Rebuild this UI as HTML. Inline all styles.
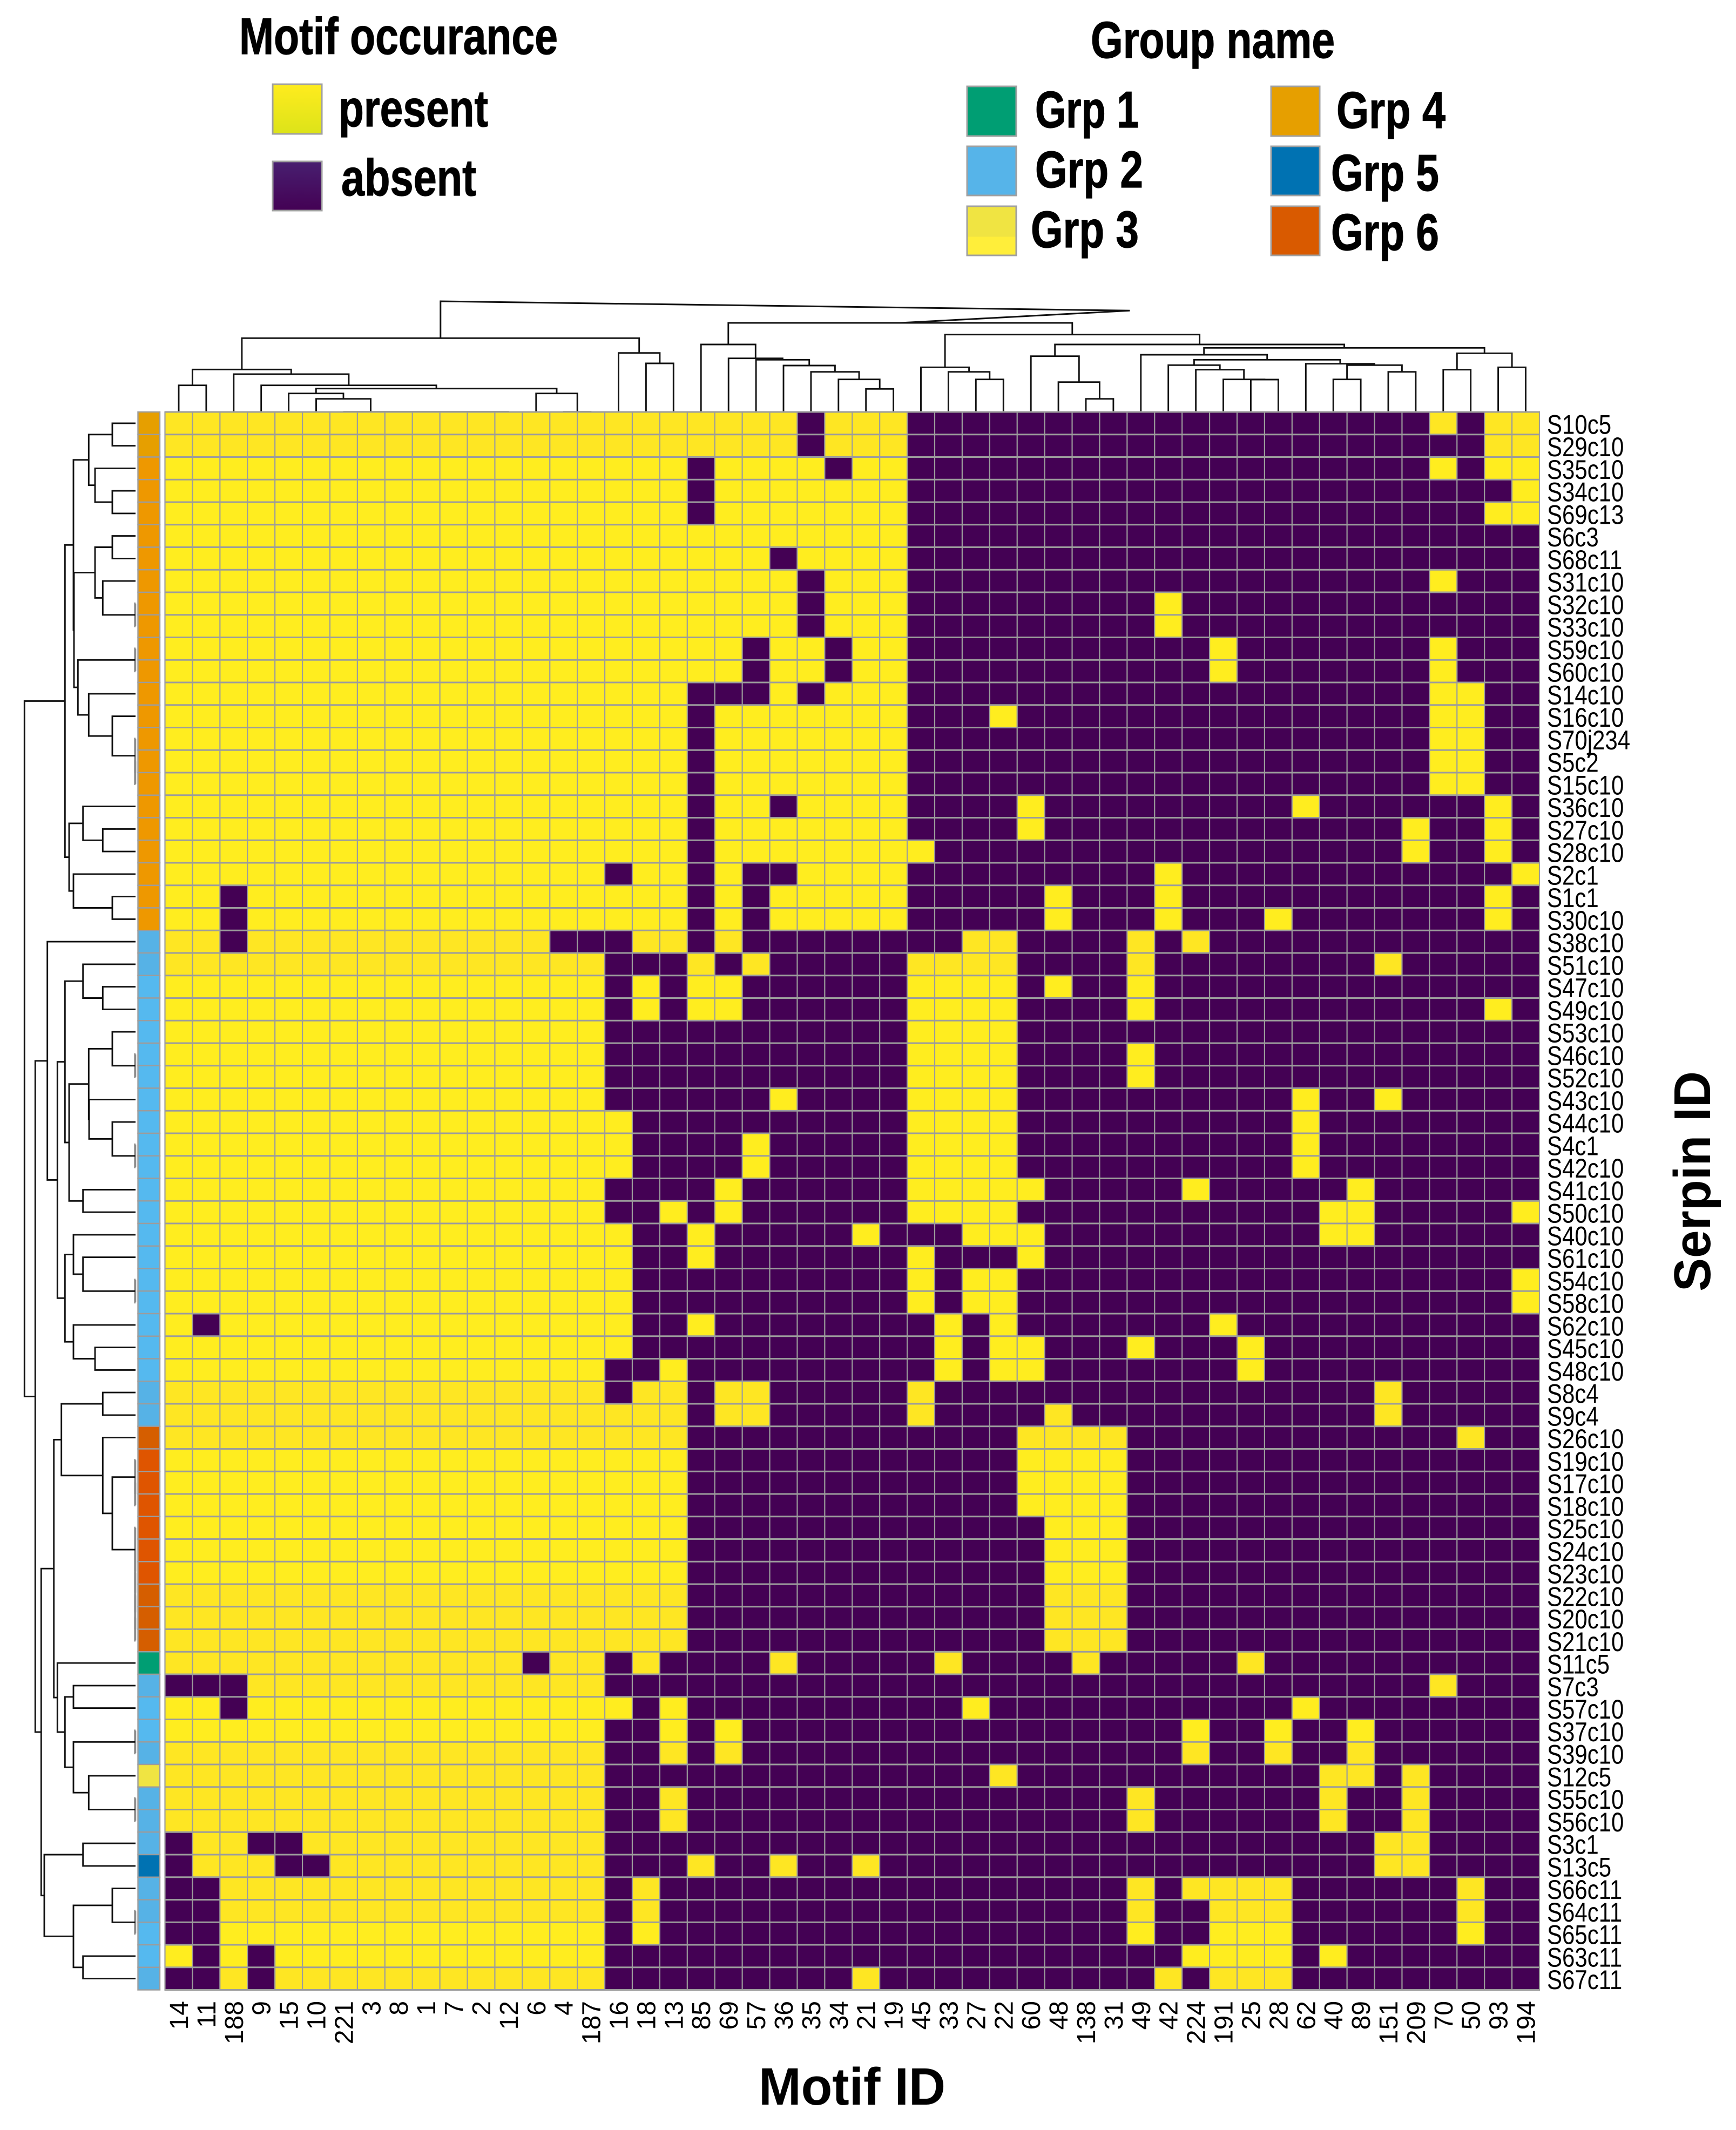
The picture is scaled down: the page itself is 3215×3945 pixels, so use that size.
<!DOCTYPE html>
<html lang="en">
<head>
<meta charset="utf-8">
<title>Serpin motif occurrence heatmap</title>
<style>
html,body{margin:0;padding:0;background:#fff;}
svg{display:block;}
text{font-family:"Liberation Sans",Arial,sans-serif;fill:#000;}
.legend-text{font-weight:bold;font-size:96px;stroke:#000;stroke-width:1.2px;}
</style>
</head>
<body>
<svg id="chart" width="3215" height="3945" viewBox="0 0 3215 3945">
  <defs>
    <linearGradient id="presentFill" x1="0" y1="0" x2="0" y2="1"><stop offset="0" stop-color="#FFEC1E"/><stop offset="1" stop-color="#DCE319"/></linearGradient>
    <linearGradient id="absentFill" x1="0" y1="0" x2="0" y2="1"><stop offset="0" stop-color="#481F70"/><stop offset="1" stop-color="#440154"/></linearGradient>
    <linearGradient id="grp3Fill" x1="0" y1="0" x2="0" y2="1"><stop offset="0.62" stop-color="#F0E442"/><stop offset="0.62" stop-color="#FFEE3A"/></linearGradient>
  </defs>
  <rect width="3215" height="3945" fill="#fff"/>

  <g>
    <text class="legend-text" x="443" y="100" textLength="590" lengthAdjust="spacingAndGlyphs">Motif occurance</text>
    <rect x="505" y="156" width="91" height="92" fill="url(#presentFill)" stroke="#a0a0a0" stroke-width="3"/>
    <text class="legend-text" x="627" y="234" textLength="277" lengthAdjust="spacingAndGlyphs">present</text>
    <rect x="505" y="299" width="91" height="91" fill="url(#absentFill)" stroke="#a0a0a0" stroke-width="3"/>
    <text class="legend-text" x="632" y="362" textLength="250" lengthAdjust="spacingAndGlyphs">absent</text>
  </g>

  <g>
    <text class="legend-text" x="2020" y="107" textLength="452" lengthAdjust="spacingAndGlyphs">Group name</text>
    <rect x="1791" y="160" width="91" height="92" fill="#009E73" stroke="#a0a0a0" stroke-width="3"/>
    <text class="legend-text" x="1917" y="236" textLength="192" lengthAdjust="spacingAndGlyphs">Grp 1</text>
    <rect x="1791" y="271" width="91" height="91" fill="#56B4E9" stroke="#a0a0a0" stroke-width="3"/>
    <text class="legend-text" x="1917" y="347" textLength="200" lengthAdjust="spacingAndGlyphs">Grp 2</text>
    <rect x="1791" y="382" width="91" height="91" fill="url(#grp3Fill)" stroke="#a0a0a0" stroke-width="3"/>
    <text class="legend-text" x="1909" y="458" textLength="200" lengthAdjust="spacingAndGlyphs">Grp 3</text>
    <rect x="2354" y="160" width="90" height="92" fill="#E69F00" stroke="#a0a0a0" stroke-width="3"/>
    <text class="legend-text" x="2475" y="237" textLength="202" lengthAdjust="spacingAndGlyphs">Grp 4</text>
    <rect x="2354" y="271" width="90" height="91" fill="#0072B2" stroke="#a0a0a0" stroke-width="3"/>
    <text class="legend-text" x="2465" y="353" textLength="200" lengthAdjust="spacingAndGlyphs">Grp 5</text>
    <rect x="2354" y="382" width="90" height="91" fill="#D95A00" stroke="#a0a0a0" stroke-width="3"/>
    <text class="legend-text" x="2465" y="463" textLength="200" lengthAdjust="spacingAndGlyphs">Grp 6</text>
  </g>

  <g id="colDendrogram"></g>
  <g id="rowDendrogram"></g>
  <g id="annotationBar"></g>
  <g id="heatmap"></g>
  <g id="rowLabels"></g>
  <g id="colLabels"></g>

  <text x="1405" y="3898" font-size="97" font-weight="bold" textLength="346" lengthAdjust="spacingAndGlyphs">Motif ID</text>
  <text transform="translate(3167,2392) rotate(-90)" font-size="96" font-weight="bold" textLength="408" lengthAdjust="spacingAndGlyphs">Serpin ID</text>
</svg>

<script>
const motifIds = [14,11,188,9,15,10,221,3,8,1,7,2,12,6,4,187,16,18,13,85,69,57,36,35,34,21,19,45,33,27,22,60,48,138,31,49,42,224,191,25,28,62,40,89,151,209,70,50,93,194];

const serpinIds = ["S10c5","S29c10","S35c10","S34c10","S69c13","S6c3","S68c11","S31c10","S32c10","S33c10","S59c10","S60c10","S14c10","S16c10","S70j234","S5c2","S15c10","S36c10","S27c10","S28c10","S2c1","S1c1","S30c10","S38c10","S51c10","S47c10","S49c10","S53c10","S46c10","S52c10","S43c10","S44c10","S4c1","S42c10","S41c10","S50c10","S40c10","S61c10","S54c10","S58c10","S62c10","S45c10","S48c10","S8c4","S9c4","S26c10","S19c10","S17c10","S18c10","S25c10","S24c10","S23c10","S22c10","S20c10","S21c10","S11c5","S7c3","S57c10","S37c10","S39c10","S12c5","S55c10","S56c10","S3c1","S13c5","S66c11","S64c11","S65c11","S63c11","S67c11"];

const serpinGroups = [4,4,4,4,4,4,4,4,4,4,4,4,4,4,4,4,4,4,4,4,4,4,4,2,2,2,2,2,2,2,2,2,2,2,2,2,2,2,2,2,2,2,2,2,2,6,6,6,6,6,6,6,6,6,6,1,2,2,2,2,3,2,2,2,5,2,2,2,2,2];

const motifPresence = [
[1,1,1,1,1,1,1,1,1,1,1,1,1,1,1,1, 1,1,1,1,1,1,1,0,1,1,1, 0,0,0,0,0,0,0,0,0,0,0,0,0,0,0,0,0,0,0,1,0,1,1],
[1,1,1,1,1,1,1,1,1,1,1,1,1,1,1,1, 1,1,1,1,1,1,1,0,1,1,1, 0,0,0,0,0,0,0,0,0,0,0,0,0,0,0,0,0,0,0,0,0,1,1],
[1,1,1,1,1,1,1,1,1,1,1,1,1,1,1,1, 1,1,1,0,1,1,1,1,0,1,1, 0,0,0,0,0,0,0,0,0,0,0,0,0,0,0,0,0,0,0,1,0,1,1],
[1,1,1,1,1,1,1,1,1,1,1,1,1,1,1,1, 1,1,1,0,1,1,1,1,1,1,1, 0,0,0,0,0,0,0,0,0,0,0,0,0,0,0,0,0,0,0,0,0,0,1],
[1,1,1,1,1,1,1,1,1,1,1,1,1,1,1,1, 1,1,1,0,1,1,1,1,1,1,1, 0,0,0,0,0,0,0,0,0,0,0,0,0,0,0,0,0,0,0,0,0,1,1],
[1,1,1,1,1,1,1,1,1,1,1,1,1,1,1,1, 1,1,1,1,1,1,1,1,1,1,1, 0,0,0,0,0,0,0,0,0,0,0,0,0,0,0,0,0,0,0,0,0,0,0],
[1,1,1,1,1,1,1,1,1,1,1,1,1,1,1,1, 1,1,1,1,1,1,0,1,1,1,1, 0,0,0,0,0,0,0,0,0,0,0,0,0,0,0,0,0,0,0,0,0,0,0],
[1,1,1,1,1,1,1,1,1,1,1,1,1,1,1,1, 1,1,1,1,1,1,1,0,1,1,1, 0,0,0,0,0,0,0,0,0,0,0,0,0,0,0,0,0,0,0,1,0,0,0],
[1,1,1,1,1,1,1,1,1,1,1,1,1,1,1,1, 1,1,1,1,1,1,1,0,1,1,1, 0,0,0,0,0,0,0,0,0,1,0,0,0,0,0,0,0,0,0,0,0,0,0],
[1,1,1,1,1,1,1,1,1,1,1,1,1,1,1,1, 1,1,1,1,1,1,1,0,1,1,1, 0,0,0,0,0,0,0,0,0,1,0,0,0,0,0,0,0,0,0,0,0,0,0],
[1,1,1,1,1,1,1,1,1,1,1,1,1,1,1,1, 1,1,1,1,1,0,1,1,0,1,1, 0,0,0,0,0,0,0,0,0,0,0,1,0,0,0,0,0,0,0,1,0,0,0],
[1,1,1,1,1,1,1,1,1,1,1,1,1,1,1,1, 1,1,1,1,1,0,1,1,0,1,1, 0,0,0,0,0,0,0,0,0,0,0,1,0,0,0,0,0,0,0,1,0,0,0],
[1,1,1,1,1,1,1,1,1,1,1,1,1,1,1,1, 1,1,1,0,0,0,1,0,1,1,1, 0,0,0,0,0,0,0,0,0,0,0,0,0,0,0,0,0,0,0,1,1,0,0],
[1,1,1,1,1,1,1,1,1,1,1,1,1,1,1,1, 1,1,1,0,1,1,1,1,1,1,1, 0,0,0,1,0,0,0,0,0,0,0,0,0,0,0,0,0,0,0,1,1,0,0],
[1,1,1,1,1,1,1,1,1,1,1,1,1,1,1,1, 1,1,1,0,1,1,1,1,1,1,1, 0,0,0,0,0,0,0,0,0,0,0,0,0,0,0,0,0,0,0,1,1,0,0],
[1,1,1,1,1,1,1,1,1,1,1,1,1,1,1,1, 1,1,1,0,1,1,1,1,1,1,1, 0,0,0,0,0,0,0,0,0,0,0,0,0,0,0,0,0,0,0,1,1,0,0],
[1,1,1,1,1,1,1,1,1,1,1,1,1,1,1,1, 1,1,1,0,1,1,1,1,1,1,1, 0,0,0,0,0,0,0,0,0,0,0,0,0,0,0,0,0,0,0,1,1,0,0],
[1,1,1,1,1,1,1,1,1,1,1,1,1,1,1,1, 1,1,1,0,1,1,0,1,1,1,1, 0,0,0,0,1,0,0,0,0,0,0,0,0,0,1,0,0,0,0,0,0,1,0],
[1,1,1,1,1,1,1,1,1,1,1,1,1,1,1,1, 1,1,1,0,1,1,1,1,1,1,1, 0,0,0,0,1,0,0,0,0,0,0,0,0,0,0,0,0,0,1,0,0,1,0],
[1,1,1,1,1,1,1,1,1,1,1,1,1,1,1,1, 1,1,1,0,1,1,1,1,1,1,1, 1,0,0,0,0,0,0,0,0,0,0,0,0,0,0,0,0,0,1,0,0,1,0],
[1,1,1,1,1,1,1,1,1,1,1,1,1,1,1,1, 0,1,1,0,1,0,0,1,1,1,1, 0,0,0,0,0,0,0,0,0,1,0,0,0,0,0,0,0,0,0,0,0,0,1],
[1,1,0,1,1,1,1,1,1,1,1,1,1,1,1,1, 1,1,1,0,1,0,1,1,1,1,1, 0,0,0,0,0,1,0,0,0,1,0,0,0,0,0,0,0,0,0,0,0,1,0],
[1,1,0,1,1,1,1,1,1,1,1,1,1,1,1,1, 1,1,1,0,1,0,1,1,1,1,1, 0,0,0,0,0,1,0,0,0,1,0,0,0,1,0,0,0,0,0,0,0,1,0],
[1,1,0,1,1,1,1,1,1,1,1,1,1,1,0,0, 0,1,1,0,1,0,0,0,0,0,0, 0,0,1,1,0,0,0,0,1,0,1,0,0,0,0,0,0,0,0,0,0,0,0],
[1,1,1,1,1,1,1,1,1,1,1,1,1,1,1,1, 0,0,0,1,0,1,0,0,0,0,0, 1,1,1,1,0,0,0,0,1,0,0,0,0,0,0,0,0,1,0,0,0,0,0],
[1,1,1,1,1,1,1,1,1,1,1,1,1,1,1,1, 0,1,0,1,1,0,0,0,0,0,0, 1,1,1,1,0,1,0,0,1,0,0,0,0,0,0,0,0,0,0,0,0,0,0],
[1,1,1,1,1,1,1,1,1,1,1,1,1,1,1,1, 0,1,0,1,1,0,0,0,0,0,0, 1,1,1,1,0,0,0,0,1,0,0,0,0,0,0,0,0,0,0,0,0,1,0],
[1,1,1,1,1,1,1,1,1,1,1,1,1,1,1,1, 0,0,0,0,0,0,0,0,0,0,0, 1,1,1,1,0,0,0,0,0,0,0,0,0,0,0,0,0,0,0,0,0,0,0],
[1,1,1,1,1,1,1,1,1,1,1,1,1,1,1,1, 0,0,0,0,0,0,0,0,0,0,0, 1,1,1,1,0,0,0,0,1,0,0,0,0,0,0,0,0,0,0,0,0,0,0],
[1,1,1,1,1,1,1,1,1,1,1,1,1,1,1,1, 0,0,0,0,0,0,0,0,0,0,0, 1,1,1,1,0,0,0,0,1,0,0,0,0,0,0,0,0,0,0,0,0,0,0],
[1,1,1,1,1,1,1,1,1,1,1,1,1,1,1,1, 0,0,0,0,0,0,1,0,0,0,0, 1,1,1,1,0,0,0,0,0,0,0,0,0,0,1,0,0,1,0,0,0,0,0],
[1,1,1,1,1,1,1,1,1,1,1,1,1,1,1,1, 1,0,0,0,0,0,0,0,0,0,0, 1,1,1,1,0,0,0,0,0,0,0,0,0,0,1,0,0,0,0,0,0,0,0],
[1,1,1,1,1,1,1,1,1,1,1,1,1,1,1,1, 1,0,0,0,0,1,0,0,0,0,0, 1,1,1,1,0,0,0,0,0,0,0,0,0,0,1,0,0,0,0,0,0,0,0],
[1,1,1,1,1,1,1,1,1,1,1,1,1,1,1,1, 1,0,0,0,0,1,0,0,0,0,0, 1,1,1,1,0,0,0,0,0,0,0,0,0,0,1,0,0,0,0,0,0,0,0],
[1,1,1,1,1,1,1,1,1,1,1,1,1,1,1,1, 0,0,0,0,1,0,0,0,0,0,0, 1,1,1,1,1,0,0,0,0,0,1,0,0,0,0,0,1,0,0,0,0,0,0],
[1,1,1,1,1,1,1,1,1,1,1,1,1,1,1,1, 0,0,1,0,1,0,0,0,0,0,0, 1,1,1,1,0,0,0,0,0,0,0,0,0,0,0,1,1,0,0,0,0,0,1],
[1,1,1,1,1,1,1,1,1,1,1,1,1,1,1,1, 1,0,0,1,0,0,0,0,0,1,0, 0,0,1,1,1,0,0,0,0,0,0,0,0,0,0,1,1,0,0,0,0,0,0],
[1,1,1,1,1,1,1,1,1,1,1,1,1,1,1,1, 1,0,0,1,0,0,0,0,0,0,0, 1,0,0,0,1,0,0,0,0,0,0,0,0,0,0,0,0,0,0,0,0,0,0],
[1,1,1,1,1,1,1,1,1,1,1,1,1,1,1,1, 1,0,0,0,0,0,0,0,0,0,0, 1,0,1,1,0,0,0,0,0,0,0,0,0,0,0,0,0,0,0,0,0,0,1],
[1,1,1,1,1,1,1,1,1,1,1,1,1,1,1,1, 1,0,0,0,0,0,0,0,0,0,0, 1,0,1,1,0,0,0,0,0,0,0,0,0,0,0,0,0,0,0,0,0,0,1],
[1,0,1,1,1,1,1,1,1,1,1,1,1,1,1,1, 1,0,0,1,0,0,0,0,0,0,0, 0,1,0,1,0,0,0,0,0,0,0,1,0,0,0,0,0,0,0,0,0,0,0],
[1,1,1,1,1,1,1,1,1,1,1,1,1,1,1,1, 1,0,0,0,0,0,0,0,0,0,0, 0,1,0,1,1,0,0,0,1,0,0,0,1,0,0,0,0,0,0,0,0,0,0],
[1,1,1,1,1,1,1,1,1,1,1,1,1,1,1,1, 0,0,1,0,0,0,0,0,0,0,0, 0,1,0,1,1,0,0,0,0,0,0,0,1,0,0,0,0,0,0,0,0,0,0],
[1,1,1,1,1,1,1,1,1,1,1,1,1,1,1,1, 0,1,1,0,1,1,0,0,0,0,0, 1,0,0,0,0,0,0,0,0,0,0,0,0,0,0,0,0,1,0,0,0,0,0],
[1,1,1,1,1,1,1,1,1,1,1,1,1,1,1,1, 1,1,1,0,1,1,0,0,0,0,0, 1,0,0,0,0,1,0,0,0,0,0,0,0,0,0,0,0,1,0,0,0,0,0],
[1,1,1,1,1,1,1,1,1,1,1,1,1,1,1,1, 1,1,1,0,0,0,0,0,0,0,0, 0,0,0,0,1,1,1,1,0,0,0,0,0,0,0,0,0,0,0,0,1,0,0],
[1,1,1,1,1,1,1,1,1,1,1,1,1,1,1,1, 1,1,1,0,0,0,0,0,0,0,0, 0,0,0,0,1,1,1,1,0,0,0,0,0,0,0,0,0,0,0,0,0,0,0],
[1,1,1,1,1,1,1,1,1,1,1,1,1,1,1,1, 1,1,1,0,0,0,0,0,0,0,0, 0,0,0,0,1,1,1,1,0,0,0,0,0,0,0,0,0,0,0,0,0,0,0],
[1,1,1,1,1,1,1,1,1,1,1,1,1,1,1,1, 1,1,1,0,0,0,0,0,0,0,0, 0,0,0,0,1,1,1,1,0,0,0,0,0,0,0,0,0,0,0,0,0,0,0],
[1,1,1,1,1,1,1,1,1,1,1,1,1,1,1,1, 1,1,1,0,0,0,0,0,0,0,0, 0,0,0,0,0,1,1,1,0,0,0,0,0,0,0,0,0,0,0,0,0,0,0],
[1,1,1,1,1,1,1,1,1,1,1,1,1,1,1,1, 1,1,1,0,0,0,0,0,0,0,0, 0,0,0,0,0,1,1,1,0,0,0,0,0,0,0,0,0,0,0,0,0,0,0],
[1,1,1,1,1,1,1,1,1,1,1,1,1,1,1,1, 1,1,1,0,0,0,0,0,0,0,0, 0,0,0,0,0,1,1,1,0,0,0,0,0,0,0,0,0,0,0,0,0,0,0],
[1,1,1,1,1,1,1,1,1,1,1,1,1,1,1,1, 1,1,1,0,0,0,0,0,0,0,0, 0,0,0,0,0,1,1,1,0,0,0,0,0,0,0,0,0,0,0,0,0,0,0],
[1,1,1,1,1,1,1,1,1,1,1,1,1,1,1,1, 1,1,1,0,0,0,0,0,0,0,0, 0,0,0,0,0,1,1,1,0,0,0,0,0,0,0,0,0,0,0,0,0,0,0],
[1,1,1,1,1,1,1,1,1,1,1,1,1,1,1,1, 1,1,1,0,0,0,0,0,0,0,0, 0,0,0,0,0,1,1,1,0,0,0,0,0,0,0,0,0,0,0,0,0,0,0],
[1,1,1,1,1,1,1,1,1,1,1,1,1,0,1,1, 0,1,0,0,0,0,1,0,0,0,0, 0,1,0,0,0,0,1,0,0,0,0,0,1,0,0,0,0,0,0,0,0,0,0],
[0,0,0,1,1,1,1,1,1,1,1,1,1,1,1,1, 0,0,0,0,0,0,0,0,0,0,0, 0,0,0,0,0,0,0,0,0,0,0,0,0,0,0,0,0,0,0,1,0,0,0],
[1,1,0,1,1,1,1,1,1,1,1,1,1,1,1,1, 1,0,1,0,0,0,0,0,0,0,0, 0,0,1,0,0,0,0,0,0,0,0,0,0,0,1,0,0,0,0,0,0,0,0],
[1,1,1,1,1,1,1,1,1,1,1,1,1,1,1,1, 0,0,1,0,1,0,0,0,0,0,0, 0,0,0,0,0,0,0,0,0,0,1,0,0,1,0,0,1,0,0,0,0,0,0],
[1,1,1,1,1,1,1,1,1,1,1,1,1,1,1,1, 0,0,1,0,1,0,0,0,0,0,0, 0,0,0,0,0,0,0,0,0,0,1,0,0,1,0,0,1,0,0,0,0,0,0],
[1,1,1,1,1,1,1,1,1,1,1,1,1,1,1,1, 0,0,0,0,0,0,0,0,0,0,0, 0,0,0,1,0,0,0,0,0,0,0,0,0,0,0,1,1,0,1,0,0,0,0],
[1,1,1,1,1,1,1,1,1,1,1,1,1,1,1,1, 0,0,1,0,0,0,0,0,0,0,0, 0,0,0,0,0,0,0,0,1,0,0,0,0,0,0,1,0,0,1,0,0,0,0],
[1,1,1,1,1,1,1,1,1,1,1,1,1,1,1,1, 0,0,1,0,0,0,0,0,0,0,0, 0,0,0,0,0,0,0,0,1,0,0,0,0,0,0,1,0,0,1,0,0,0,0],
[0,1,1,0,0,1,1,1,1,1,1,1,1,1,1,1, 0,0,0,0,0,0,0,0,0,0,0, 0,0,0,0,0,0,0,0,0,0,0,0,0,0,0,0,0,1,1,0,0,0,0],
[0,1,1,1,0,0,1,1,1,1,1,1,1,1,1,1, 0,0,0,1,0,0,1,0,0,1,0, 0,0,0,0,0,0,0,0,0,0,0,0,0,0,0,0,0,1,1,0,0,0,0],
[0,0,1,1,1,1,1,1,1,1,1,1,1,1,1,1, 0,1,0,0,0,0,0,0,0,0,0, 0,0,0,0,0,0,0,0,1,0,1,1,1,1,0,0,0,0,0,0,1,0,0],
[0,0,1,1,1,1,1,1,1,1,1,1,1,1,1,1, 0,1,0,0,0,0,0,0,0,0,0, 0,0,0,0,0,0,0,0,1,0,0,1,1,1,0,0,0,0,0,0,1,0,0],
[0,0,1,1,1,1,1,1,1,1,1,1,1,1,1,1, 0,1,0,0,0,0,0,0,0,0,0, 0,0,0,0,0,0,0,0,1,0,0,1,1,1,0,0,0,0,0,0,1,0,0],
[1,0,1,0,1,1,1,1,1,1,1,1,1,1,1,1, 0,0,0,0,0,0,0,0,0,0,0, 0,0,0,0,0,0,0,0,0,0,1,1,1,1,0,1,0,0,0,0,0,0,0],
[0,0,1,0,1,1,1,1,1,1,1,1,1,1,1,1, 0,0,0,0,0,0,0,0,0,1,0, 0,0,0,0,0,0,0,0,0,1,0,1,1,1,0,0,0,0,0,0,0,0,0]
];

/* Dendrogram merges: [distance, childA, childB]; a plain number is a leaf index. */
const rowTree = [617,
 [392,
  [345,
   [260,[129,0,1],[225,2,[129,3,4]]],
   [342,
    [225,[129,5,6],[182,7,[2,8,9]]],
    [320,[2,10,11],[260,12,[129,13,[2,14,[2,15,16]]]]]]],
  [369,[292,17,[182,18,19]],[345,20,[129,21,22]]]],
 [557,
  [490,23,[434,
    [392,[292,24,[182,25,26]],
         [369,[260,[129,27,[2,28,29]],[258,30,[129,31,[2,32,33]]]],[292,34,35]]],
    [392,[345,36,[292,37,[2,38,39]]],[345,40,[225,41,42]]]]],
  [524,
   [454,
    [412,[182,43,44],[182,45,[129,[2,46,[2,47,48]],[2,49,[2,50,[2,51,[2,52,[2,53,54]]]]]]]],
    [434,55,[392,[345,56,57],[345,[2,58,59],[260,60,[2,61,62]]]]]],
   [507,[292,63,64],[345,[129,65,[2,66,67]],[292,68,69]]]]]];

const colClusterA = [407,
 [233,[145,0,1],[207,2,[145,3,[127,[100,4,[70,5,[1,6,[1,7,[1,8,[1,9,[1,10,[1,11,12]]]]]]]],[100,13,[1,14,15]]]]]],
 [325,16,[267,17,18]]];

const colClusterB = [492,
 [372,19,[295,20,[287,21,[255,22,[220,23,[178,24,[125,25,26]]]]]]],
 [427,
  [245,27,[220,28,[178,29,30]]],
  [372,
   [307,31,[163,32,[70,33,34]]],
   [353,
    [315,35,[287,[257,36,[232,37,[178,38,[177,39,40]]]],[265,41,[257,[178,42,43],[220,44,45]]]]],
    [323,[232,46,47],[245,48,49]]]]]];

const colRootDistance = [612];
const colApexPoint = [34.6, 560];

const NS = 'http://www.w3.org/2000/svg';
const gridLeft = 305.5, gridTop = 763, cellW = 50.91, cellH = 41.75;
const gridRight = gridLeft + cellW * motifIds.length;
const gridBottom = gridTop + cellH * serpinIds.length;
const absentColor = '#440154', gridColor = '#9c9c9c';
const groupColorsBright = {1:'#009E73',2:'#55B9EF',3:'#F0E442',4:'#EE9800',5:'#0072B2',6:'#DF5500'};
const groupColorsDim = {1:'#009E73',2:'#56B2E6',3:'#F0E442',4:'#E69F00',5:'#0072B2',6:'#D55E00'};

/* The reference has faint horizontal tone bands across the image. */
function rowIsDim(r){
  return r <= 1 || r === 23 || r === 24 || (r >= 43 && r <= 45) ||
         (r >= 52 && r <= 56) || (r >= 59 && r <= 66) || r >= 69;
}
function presentColorFor(r){ return rowIsDim(r) ? '#FEE623' : '#FFED1F'; }

function colEdge(i){ return gridLeft + i * cellW; }
function rowEdge(i){ return gridTop + i * cellH; }
function colCenter(i){ return colEdge(i + 0.5); }
function rowCenter(i){ return rowEdge(i + 0.5); }
function colDistY(d){ return 762 - d / 3; }
function rowDistX(d){ return 251 - d / 3; }

function make(tag, attrs, parent){
  const el = document.createElementNS(NS, tag);
  for (const k in attrs) el.setAttribute(k, attrs[k]);
  parent.appendChild(el);
  return el;
}

function walkTree(node, toPoint, layer, tinyWidth){
  if (typeof node === 'number') return {pos: node, d: 0};
  const a = walkTree(node[1], toPoint, layer, tinyWidth);
  const b = walkTree(node[2], toPoint, layer, tinyWidth);
  const d = node[0];
  const pts = [toPoint(a.pos, a.d), toPoint(a.pos, d), toPoint(b.pos, d), toPoint(b.pos, b.d)];
  const tiny = d <= 3;
  const link = make('polyline', {
    points: pts.map(function(p){ return p[0].toFixed(1) + ',' + p[1].toFixed(1); }).join(' '),
    fill: 'none',
    stroke: tiny ? '#8c8c8c' : '#111111',
    'stroke-width': tiny ? tinyWidth : 2.9
  }, layer);
  
  
  return {pos: (a.pos + b.pos) / 2, d: d};
}

/* Top dendrogram */
const colLayer = document.getElementById('colDendrogram');
function colPoint(pos, d){ return [colCenter(pos), colDistY(d)]; }
const clusterA = walkTree(colClusterA, colPoint, colLayer, 1.5);
const clusterB = walkTree(colClusterB, colPoint, colLayer, 1.5);
const rootPts = [
  colPoint(clusterB.pos, clusterB.d),
  colPoint(colApexPoint[0], colApexPoint[1]),
  colPoint(clusterA.pos, colRootDistance[0]),
  colPoint(clusterA.pos, clusterA.d)
];
const rootLink = make('polyline', {
  points: rootPts.map(function(p){ return p[0].toFixed(1) + ',' + p[1].toFixed(1); }).join(' '),
  fill: 'none', stroke: '#111111', 'stroke-width': 3
}, colLayer);



/* Left dendrogram */
const rowLayer = document.getElementById('rowDendrogram');
function rowPoint(pos, d){ return [rowDistX(d), rowCenter(pos)]; }
walkTree(rowTree, rowPoint, rowLayer, 4);

/* Annotation bar */
const annotationLayer = document.getElementById('annotationBar');
serpinGroups.forEach(function(group, r){
  const cell = make('rect', {
    x: 255.5, y: rowEdge(r), width: 40.5, height: cellH,
    fill: (rowIsDim(r) ? groupColorsDim : groupColorsBright)[group], stroke: gridColor, 'stroke-width': 2.4
  }, annotationLayer);
  
  
});

/* Heatmap cells */
const heatLayer = document.getElementById('heatmap');
motifPresence.forEach(function(rowValues, r){
  rowValues.forEach(function(value, c){
    const cell = make('rect', {
      x: colEdge(c), y: rowEdge(r), width: cellW + 0.4, height: cellH + 0.4,
      fill: value ? presentColorFor(r) : absentColor
    }, heatLayer);
    
    
  });
});
for (let c = 0; c <= motifIds.length; c++) {
  const line = make('line', {x1: colEdge(c), x2: colEdge(c), y1: gridTop, y2: gridBottom, stroke: gridColor, 'stroke-width': 2.2}, heatLayer);
  
  
}
for (let r = 0; r <= serpinIds.length; r++) {
  const line = make('line', {x1: gridLeft - 1, x2: gridRight + 1, y1: rowEdge(r), y2: rowEdge(r), stroke: gridColor, 'stroke-width': 3}, heatLayer);
  
  
}

/* Row labels */
const rowLabelLayer = document.getElementById('rowLabels');
serpinIds.forEach(function(name, r){
  const t = make('text', {
    transform: 'translate(2865,' + (rowCenter(r) + 19.5).toFixed(1) + ') scale(0.84,1)',
    'font-size': 50
  }, rowLabelLayer);
  t.textContent = name;
  
  
});

/* Column labels */
const colLabelLayer = document.getElementById('colLabels');
motifIds.forEach(function(id, c){
  const t = make('text', {
    transform: 'translate(' + (colCenter(c) + 17).toFixed(1) + ',3706) rotate(-90)',
    'font-size': 48,
    'text-anchor': 'end'
  }, colLabelLayer);
  t.textContent = id;
  
  
});
</script>
</body>
</html>
